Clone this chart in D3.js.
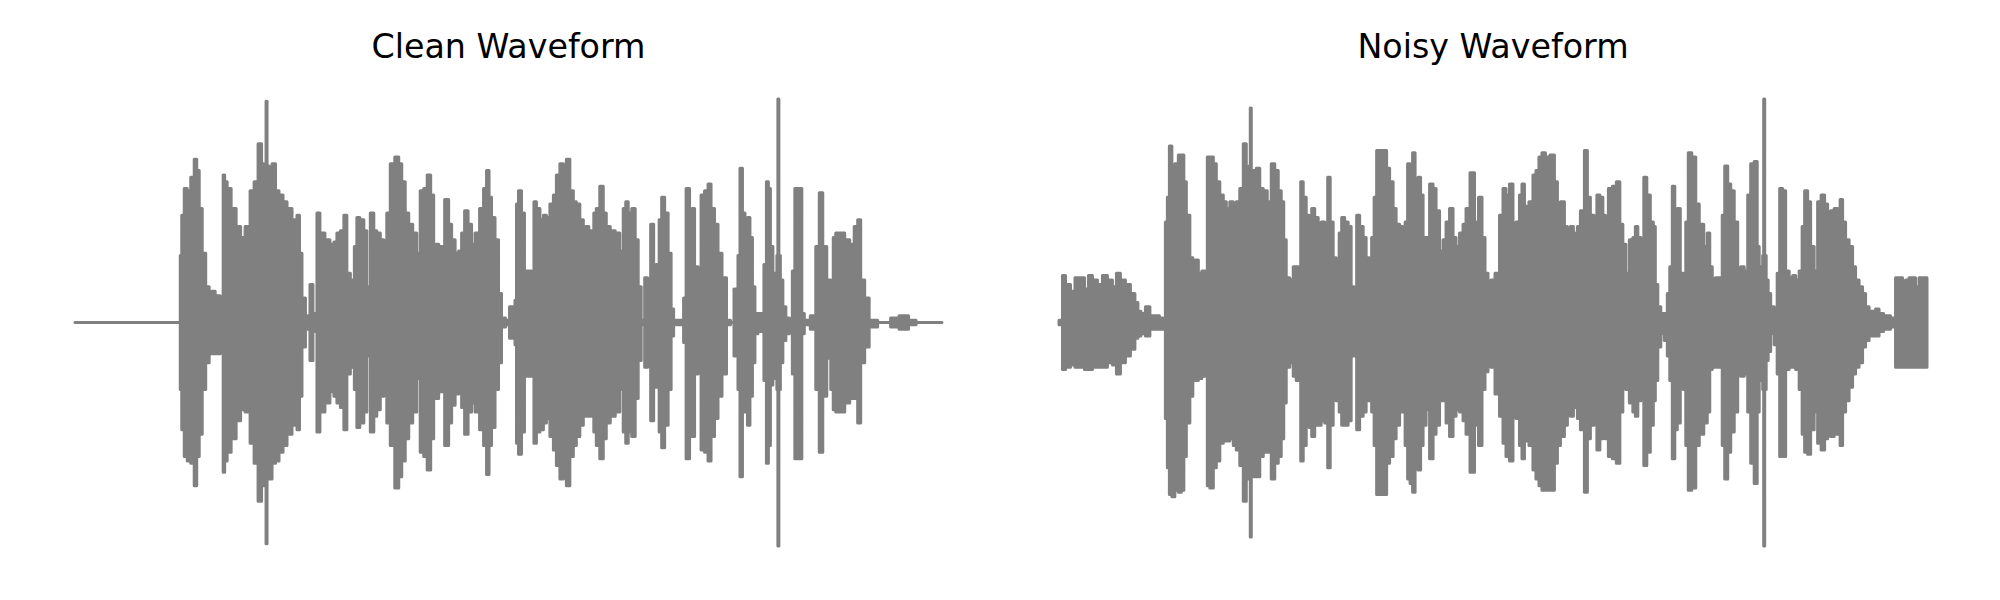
<!DOCTYPE html>
<html><head><meta charset="utf-8">
<script src="https://cdn.jsdelivr.net/npm/d3@7"></script>
<style>html,body{margin:0;padding:0;background:#fff;} svg{display:block}</style>
</head><body>
<script>
// Titles
const panelTitles = ["Clean Waveform", "Noisy Waveform"];

// Clean waveform envelope: time (s), peak amplitude (upper envelope), trough depth (|lower envelope|)
const cleanTime = [0.00,1.05,1.06,1.08,1.11,1.14,1.18,1.21,1.23,1.26,1.29,1.33,1.36,1.38,1.43,1.48,1.49,1.51,1.54,1.59,1.64,1.68,1.73,1.78,1.81,1.86,1.88,1.90,1.91,1.92,1.93,1.96,1.99,2.03,2.06,2.11,
2.14,2.21,2.24,2.26,2.29,2.33,2.35,2.36,2.38,2.39,2.42,2.43,2.48,2.53,2.58,2.61,2.64,2.68,2.71,2.74,2.78,2.82,2.83,2.88,2.91,2.94,2.98,3.01,3.04,3.08,3.11,3.14,3.18,3.23,3.26,3.29,3.33,3.36,3.41,3.44,3.48,3.51,3.55,3.58,3.61,3.68,3.73,3.76,3.79,3.83,3.86,3.89,3.92,3.96,3.99,4.03,4.08,4.11,4.14,4.16,4.19,4.23,4.26,4.29,4.34,4.37,4.40,4.42,
4.43,4.46,4.49,4.52,4.56,4.59,4.61,4.64,4.68,4.71,4.74,4.78,4.81,4.84,4.88,4.91,4.94,4.98,5.01,5.04,5.08,5.11,5.13,5.17,5.19,5.21,5.24,5.28,5.31,5.34,5.39,5.44,5.48,5.51,5.53,5.56,5.60,5.63,5.66,5.69,5.73,5.75,5.79,5.81,5.84,5.87,5.89,5.93,5.96,5.99,6.01,6.09,6.11,6.14,6.18,6.19,6.23,6.26,6.29,6.33,6.36,6.39,6.43,6.46,6.51,6.55,6.59,6.62,6.64,
6.65,6.68,6.70,6.73,6.75,6.78,6.80,6.83,6.86,6.89,6.92,6.94,6.96,6.98,7.01,7.03,7.04,7.05,7.06,7.08,7.11,7.14,7.18,7.20,7.23,7.28,7.29,7.33,7.41,7.44,7.48,7.51,7.56,7.59,7.61,7.64,7.69,7.74,7.79,7.83,7.86,7.89,7.94,7.98,8.11,8.24,8.28,8.33,8.38,8.48,8.69];
const cleanPeak = [0,0,0.30,0.48,0.60,0.59,0.65,0.73,0.68,0.51,0.31,0.16,0.10,0.14,0.12,0.10,0.66,0.63,0.60,0.51,0.43,0.38,0.43,0.59,0.63,0.80,0.71,0.65,0.70,0.99,0.70,0.60,0.71,0.59,0.57,0.54,
0.51,0.46,0.48,0.31,0.11,0.03,0.03,0.17,0.17,0.03,0.04,0.49,0.40,0.37,0.35,0.36,0.40,0.41,0.48,0.22,0.19,0.34,0.47,0.46,0.41,0.16,0.49,0.41,0.40,0.37,0.25,0.49,0.71,0.74,0.71,0.63,0.49,0.44,0.40,0.31,0.59,0.60,0.66,0.57,0.35,0.34,0.55,0.44,0.37,0.31,0.32,0.40,0.50,0.44,0.35,0.40,0.51,0.60,0.68,0.56,0.47,0.37,0.13,0.02,0.01,0.07,0.07,0.10,
0.53,0.59,0.49,0.23,0.23,0.20,0.54,0.51,0.46,0.48,0.47,0.53,0.57,0.66,0.71,0.69,0.73,0.59,0.54,0.53,0.46,0.19,0.43,0.41,0.19,0.49,0.51,0.61,0.49,0.43,0.41,0.40,0.32,0.51,0.54,0.49,0.51,0.37,0.16,0.01,0.20,0.11,0.44,0.19,0.26,0.46,0.56,0.49,0.31,0.06,0.01,0.01,0.11,0.60,0.40,0.51,0.25,0.20,0.57,0.59,0.62,0.51,0.44,0.31,0.20,0.01,0.00,0.15,0.10,
0.30,0.69,0.49,0.26,0.47,0.38,0.16,0.04,0.04,0.04,0.26,0.63,0.60,0.34,0.22,0.17,0.30,1.00,0.30,0.19,0.07,0.02,0.01,0.23,0.60,0.60,0.04,0.01,0.03,0.34,0.58,0.34,0.19,0.13,0.38,0.40,0.40,0.37,0.35,0.43,0.46,0.19,0.11,0.01,0.00,0.02,0.03,0.03,0.01,0.00,0.00];
const cleanTrough = [0,0,0.30,0.48,0.60,0.62,0.63,0.73,0.60,0.50,0.30,0.18,0.09,0.14,0.14,0.12,0.67,0.62,0.58,0.52,0.44,0.39,0.40,0.54,0.63,0.80,0.73,0.70,0.70,0.99,0.70,0.70,0.63,0.62,0.58,0.55,
0.50,0.46,0.48,0.33,0.11,0.03,0.03,0.17,0.17,0.03,0.04,0.49,0.40,0.36,0.31,0.33,0.36,0.38,0.48,0.23,0.20,0.30,0.47,0.45,0.40,0.15,0.49,0.42,0.39,0.33,0.23,0.45,0.55,0.74,0.69,0.62,0.52,0.45,0.40,0.25,0.58,0.60,0.66,0.52,0.34,0.31,0.55,0.45,0.37,0.32,0.31,0.38,0.50,0.40,0.36,0.40,0.48,0.55,0.68,0.55,0.47,0.30,0.18,0.02,0.01,0.07,0.07,0.10,
0.54,0.59,0.49,0.24,0.24,0.20,0.54,0.49,0.48,0.45,0.43,0.51,0.57,0.64,0.70,0.69,0.73,0.60,0.55,0.51,0.46,0.21,0.42,0.42,0.18,0.49,0.55,0.61,0.52,0.45,0.42,0.40,0.30,0.49,0.54,0.49,0.51,0.34,0.17,0.01,0.20,0.15,0.44,0.20,0.29,0.49,0.56,0.46,0.30,0.06,0.01,0.01,0.09,0.61,0.40,0.51,0.23,0.18,0.57,0.58,0.62,0.51,0.43,0.33,0.23,0.01,0.00,0.15,0.10,
0.30,0.69,0.40,0.30,0.46,0.33,0.18,0.05,0.04,0.04,0.26,0.63,0.55,0.28,0.25,0.23,0.30,1.00,0.30,0.18,0.08,0.05,0.02,0.23,0.61,0.61,0.05,0.01,0.03,0.30,0.58,0.33,0.16,0.30,0.39,0.40,0.40,0.36,0.34,0.34,0.45,0.18,0.11,0.02,0.00,0.02,0.03,0.03,0.01,0.00,0.00];

// Noisy waveform envelope
const noisyTime = [0.00,0.03,0.04,0.09,0.14,0.18,0.23,0.28,0.31,0.36,0.41,0.46,0.51,0.56,0.59,0.64,0.69,0.74,0.78,0.80,0.84,0.89,0.93,0.98,1.03,1.05,1.08,1.09,1.12,1.14,1.18,1.21,1.24,1.26,1.29,1.33,1.35,1.38,1.41,1.45,1.48,1.49,1.53,1.56,1.59,1.63,1.66,1.69,1.73,1.76,1.79,1.83,1.86,1.89,1.91,1.92,1.93,1.96,1.99,2.03,2.06,2.11,2.14,2.18,2.21,2.24,
2.26,2.29,2.33,2.36,2.39,2.41,2.43,2.46,2.49,2.52,2.54,2.58,2.61,2.64,2.68,2.70,2.73,2.76,2.79,2.82,2.84,2.88,2.91,2.94,2.97,2.99,3.03,3.06,3.09,3.12,3.14,3.17,3.19,3.23,3.27,3.29,3.33,3.36,3.39,3.43,3.45,3.48,3.50,3.53,3.55,3.58,3.61,3.63,3.66,3.69,3.73,3.76,3.79,3.83,3.86,3.89,3.93,3.96,3.99,4.03,4.06,4.09,4.14,4.18,4.22,4.25,4.28,4.31,4.34,4.39,4.43,4.46,4.49,4.53,4.56,4.59,4.63,
4.64,4.68,4.73,4.76,4.79,4.82,4.85,4.89,4.94,4.98,5.00,5.04,5.08,5.10,5.14,5.16,5.18,5.20,5.24,5.28,5.30,5.34,5.37,5.40,5.43,5.46,5.48,5.52,5.56,5.60,5.63,5.66,5.69,5.73,5.76,5.78,5.81,5.84,5.87,5.90,5.94,5.96,5.98,6.01,6.04,6.08,6.10,6.13,6.15,6.18,6.20,6.24,6.26,6.29,6.31,6.36,6.39,6.43,6.48,6.50,6.53,6.55,6.59,6.63,6.65,6.68,6.71,6.74,6.78,6.81,6.84,6.88,6.91,6.94,6.98,7.00,
7.02,7.04,7.05,7.06,7.07,7.09,7.11,7.14,7.18,7.20,7.23,7.26,7.29,7.33,7.36,7.39,7.43,7.45,7.48,7.51,7.54,7.58,7.61,7.65,7.68,7.71,7.74,7.78,7.81,7.83,7.86,7.89,7.93,7.96,7.99,8.03,8.06,8.09,8.13,8.16,8.19,8.23,8.28,8.31,8.34,8.37,8.38,8.43,8.46,8.49,8.53,8.56,8.59,8.63,8.67,8.69];
const noisyPeak = [0.01,0.01,0.21,0.17,0.14,0.20,0.20,0.15,0.21,0.19,0.17,0.21,0.19,0.16,0.22,0.19,0.17,0.13,0.09,0.05,0.04,0.07,0.03,0.03,0.02,0.00,0.45,0.56,0.79,0.69,0.71,0.75,0.75,0.63,0.48,0.29,0.22,0.28,0.22,0.23,0.19,0.74,0.74,0.71,0.63,0.57,0.54,0.51,0.54,0.51,0.54,0.60,0.80,0.68,0.70,0.96,0.65,0.68,0.69,0.60,0.59,0.54,0.71,0.68,0.59,0.54,
0.37,0.20,0.19,0.25,0.25,0.22,0.63,0.56,0.48,0.43,0.51,0.47,0.44,0.45,0.44,0.65,0.45,0.29,0.23,0.40,0.47,0.45,0.43,0.16,0.13,0.48,0.43,0.38,0.29,0.23,0.38,0.56,0.77,0.77,0.77,0.69,0.63,0.51,0.44,0.43,0.34,0.45,0.71,0.69,0.76,0.59,0.65,0.57,0.38,0.38,0.62,0.60,0.50,0.32,0.37,0.45,0.51,0.38,0.34,0.40,0.44,0.51,0.67,0.45,0.56,0.38,0.22,0.16,0.19,0.22,0.48,0.60,0.57,0.62,0.38,0.45,0.57,
0.62,0.52,0.54,0.66,0.68,0.74,0.76,0.74,0.75,0.63,0.53,0.54,0.43,0.26,0.43,0.40,0.17,0.43,0.50,0.77,0.56,0.48,0.44,0.57,0.56,0.48,0.38,0.60,0.61,0.63,0.44,0.35,0.22,0.37,0.38,0.43,0.38,0.32,0.65,0.57,0.45,0.43,0.17,0.07,0.04,0.04,0.13,0.25,0.61,0.50,0.51,0.22,0.16,0.45,0.76,0.74,0.53,0.44,0.34,0.40,0.25,0.16,0.20,0.20,0.48,0.70,0.62,0.59,0.45,0.22,0.25,0.23,0.57,0.71,0.72,0.34,
0.25,0.20,0.30,1.00,0.30,0.19,0.13,0.07,0.05,0.22,0.60,0.59,0.23,0.20,0.21,0.19,0.23,0.43,0.59,0.54,0.34,0.23,0.54,0.57,0.53,0.45,0.50,0.51,0.47,0.55,0.45,0.37,0.34,0.25,0.19,0.16,0.13,0.07,0.05,0.05,0.06,0.04,0.03,0.03,0.02,0.01,0.20,0.20,0.17,0.19,0.20,0.20,0.16,0.20,0.20,0.20];
const noisyTrough = [0.01,0.01,0.21,0.20,0.19,0.20,0.20,0.21,0.21,0.20,0.20,0.20,0.18,0.19,0.23,0.18,0.15,0.12,0.07,0.06,0.05,0.06,0.03,0.03,0.03,0.01,0.43,0.65,0.77,0.78,0.75,0.76,0.75,0.60,0.45,0.33,0.24,0.26,0.25,0.24,0.18,0.73,0.74,0.65,0.62,0.54,0.53,0.53,0.52,0.55,0.57,0.64,0.80,0.63,0.70,0.96,0.65,0.69,0.69,0.60,0.58,0.58,0.70,0.63,0.60,0.52,
0.36,0.20,0.18,0.24,0.26,0.23,0.62,0.55,0.42,0.47,0.51,0.46,0.46,0.44,0.45,0.65,0.46,0.26,0.35,0.40,0.46,0.46,0.44,0.15,0.15,0.48,0.42,0.40,0.35,0.23,0.40,0.55,0.77,0.77,0.77,0.63,0.60,0.52,0.46,0.40,0.35,0.55,0.70,0.72,0.76,0.58,0.66,0.55,0.46,0.39,0.61,0.50,0.46,0.35,0.35,0.45,0.51,0.42,0.39,0.40,0.44,0.50,0.67,0.46,0.55,0.30,0.22,0.17,0.20,0.32,0.42,0.54,0.60,0.62,0.40,0.43,0.55,
0.61,0.53,0.55,0.66,0.70,0.73,0.75,0.75,0.75,0.63,0.55,0.51,0.46,0.40,0.42,0.38,0.18,0.43,0.48,0.76,0.52,0.46,0.45,0.57,0.52,0.48,0.52,0.60,0.61,0.63,0.40,0.27,0.30,0.36,0.40,0.42,0.35,0.30,0.64,0.58,0.46,0.35,0.26,0.11,0.05,0.08,0.15,0.26,0.61,0.48,0.45,0.26,0.30,0.55,0.75,0.74,0.55,0.50,0.45,0.40,0.21,0.20,0.20,0.20,0.55,0.70,0.58,0.49,0.40,0.23,0.24,0.23,0.40,0.63,0.72,0.40,
0.26,0.22,0.30,1.00,0.30,0.17,0.13,0.05,0.10,0.23,0.60,0.60,0.21,0.20,0.20,0.21,0.30,0.50,0.58,0.59,0.48,0.40,0.54,0.57,0.52,0.48,0.51,0.50,0.45,0.55,0.40,0.35,0.29,0.23,0.20,0.18,0.11,0.08,0.06,0.06,0.06,0.04,0.03,0.03,0.02,0.01,0.20,0.20,0.20,0.20,0.20,0.20,0.20,0.20,0.20,0.20];

const W = 2000, H = 600;
const svg = d3.select("body").append("svg").attr("width", W).attr("height", H);
const color = "#808080";

const panels = [
  {title: panelTitles[0], time: cleanTime, peak: cleanPeak, trough: cleanTrough, x0: 75, x1: 942},
  {title: panelTitles[1], time: noisyTime, peak: noisyPeak, trough: noisyTrough, x0: 1059, x1: 1927}
];

const y = d3.scaleLinear().domain([-1, 1]).range([322.5 + 223.5, 322.5 - 223.5]);

panels.forEach(p => {
  const x = d3.scaleLinear().domain([0, 8.69]).range([p.x0, p.x1]);
  const rows = p.time.map((t, i) => ({t, hi: p.peak[i], lo: -p.trough[i]}));
  const area = d3.area()
    .x(d => x(d.t))
    .y0(d => y(d.lo))
    .y1(d => y(d.hi))
    .curve(d3.curveStep);
  svg.append("path")
    .datum(rows)
    .attr("d", area)
    .attr("fill", color)
    .attr("stroke", color)
    .attr("stroke-width", 3)
    .attr("stroke-linejoin", "round")
    .attr("stroke-linecap", "round");
  svg.append("text")
    .attr("x", (p.x0 + p.x1) / 2)
    .attr("y", 58)
    .attr("text-anchor", "middle")
    .attr("font-family", "DejaVu Sans")
    .attr("font-size", 33.3)
    .attr("fill", "#000")
    .text(p.title);
});
</script>
</body></html>
